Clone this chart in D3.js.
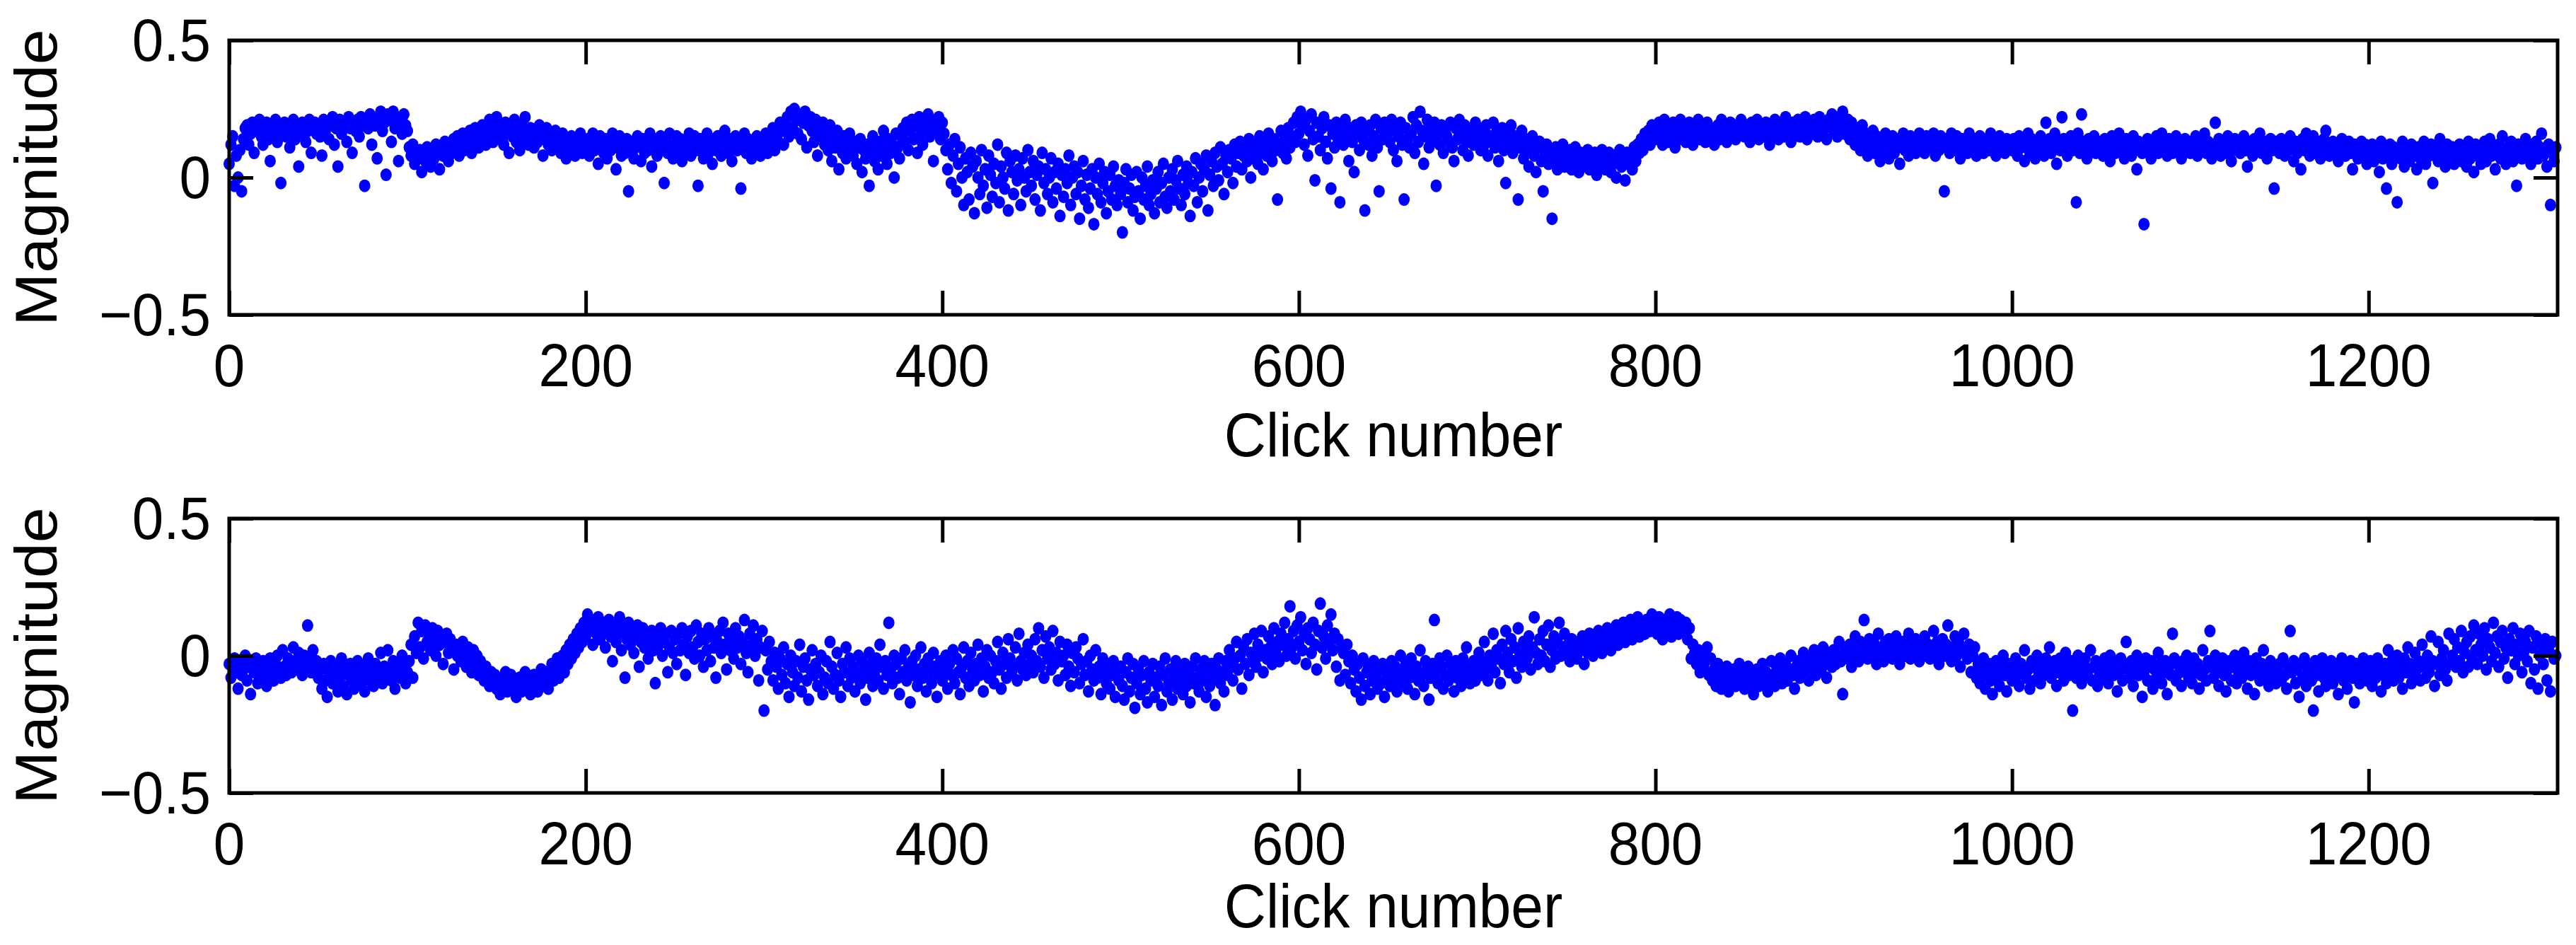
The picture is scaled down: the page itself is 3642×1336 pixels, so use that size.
<!DOCTYPE html>
<html><head><meta charset="utf-8">
<script src="https://cdn.jsdelivr.net/npm/d3@7"></script>
<style>body{margin:0;background:#fff}</style></head>
<body><svg id="c" width="3642" height="1336"></svg>
<script>
// Values in hundredths of magnitude units, one per click (index 0..)
const topMagnitudeCenti = [
5,12,15,-3,8,0,10,-5,14,18,19,12,16,20,9,17,19,21,15,12,18,20,14,6,19,16,21,13,17,-2,18,20,15,19,11,17,21,14,18,4,16,20,19,13,17,21,9,18,20,16,
19,15,8,21,17,20,14,19,22,12,18,4,21,16,19,20,13,22,18,9,20,17,21,15,22,19,-3,20,18,23,12,21,19,7,22,24,17,20,1,23,21,13,24,18,22,6,20,16,23,19,
17,11,8,12,5,9,7,10,2,9,6,11,8,4,10,7,12,9,3,11,8,13,10,6,12,9,14,11,15,8,13,16,10,14,12,17,9,15,18,13,11,16,19,14,12,18,21,15,13,20,
22,17,14,19,12,20,16,9,18,15,21,13,17,10,19,14,22,16,12,18,15,11,17,13,19,16,8,14,18,12,15,10,13,17,11,14,9,16,12,7,13,10,15,11,8,14,12,16,9,13,
11,14,8,12,16,10,13,5,15,11,9,14,7,12,10,16,13,3,11,15,8,12,9,14,-5,10,13,7,11,15,12,6,14,9,13,10,16,4,11,14,8,12,15,10,-2,13,9,16,11,7,
12,15,10,14,6,11,13,9,16,8,12,15,10,-3,14,11,7,13,16,9,12,5,14,10,15,11,8,13,17,12,9,14,6,11,15,10,13,-4,12,16,9,14,11,7,13,10,15,12,8,14,
11,16,9,14,12,18,10,15,13,20,17,12,19,22,15,24,18,25,21,16,23,14,20,24,11,19,22,17,13,21,8,18,15,20,12,16,10,19,6,14,11,17,3,13,9,15,7,12,16,10,
8,13,5,11,14,2,10,7,12,-3,9,15,6,11,3,13,8,17,10,5,14,9,12,0,16,11,7,15,18,13,20,10,17,21,14,19,9,22,16,12,20,18,23,15,21,6,19,17,22,14,
20,16,10,3,12,-2,8,14,-5,5,11,0,-10,7,2,-8,9,4,-13,6,0,-6,10,-3,3,-11,8,1,-7,5,-2,12,-9,4,0,-4,9,-12,6,2,-6,8,-1,3,-10,7,0,-5,10,2,
-3,6,-8,1,4,-12,9,-2,3,-6,0,7,-9,2,-4,5,-14,1,-7,3,-2,8,-10,0,4,-6,2,-15,-3,6,-8,1,-11,-4,3,-17,0,-6,5,-9,-2,2,-13,-5,1,-8,4,-3,-10,-1,
-6,-20,-2,3,-9,-4,1,-12,-7,2,-5,-15,0,-8,-3,4,-10,-6,-1,-13,-4,2,-9,-2,5,-7,-11,0,-5,3,-8,-1,6,-4,-10,1,-6,4,-2,-14,2,-3,7,-9,0,5,-5,3,8,-12,
1,6,-3,9,4,-1,11,5,-6,8,2,10,7,-2,12,4,9,13,3,8,11,6,14,0,10,7,12,5,15,9,3,13,8,16,11,6,14,10,-8,12,17,9,14,7,18,11,15,20,13,22,
16,24,19,12,21,8,17,23,14,-1,20,15,10,18,22,13,7,19,-4,16,11,20,14,-9,17,12,21,15,6,18,13,2,19,16,10,20,14,-12,17,12,19,8,15,21,11,-5,18,14,20,16,
19,13,21,10,17,6,15,20,12,-8,18,14,11,16,22,9,19,13,24,17,5,15,21,11,18,14,20,-3,16,12,19,9,17,15,13,20,11,6,18,14,21,16,10,19,13,8,17,15,12,20,
14,18,10,16,12,19,8,15,13,20,11,17,6,14,18,10,-2,16,12,19,9,15,13,-8,11,17,7,14,10,4,12,15,8,2,11,13,6,-5,9,12,5,10,-15,7,11,3,9,6,12,4,
8,5,10,3,7,11,6,2,9,4,8,6,10,3,7,5,9,1,8,4,10,6,3,7,9,2,5,8,0,6,10,4,7,-1,9,5,8,3,11,6,12,9,14,10,16,13,17,12,19,15,
18,14,20,16,12,21,17,13,19,15,20,11,18,14,21,16,19,13,17,20,15,12,18,16,21,14,17,19,13,20,16,18,15,12,17,19,14,21,16,18,13,17,20,15,19,14,18,16,21,17,
15,19,17,13,20,16,18,21,14,19,17,15,20,18,12,19,16,21,17,14,20,18,15,22,17,19,13,20,16,18,21,15,19,17,22,14,20,18,16,21,19,15,22,17,20,18,14,21,19,23,
17,20,15,22,18,24,16,19,21,14,20,17,12,18,15,10,19,13,16,8,14,11,17,9,15,12,6,14,10,16,13,7,12,15,9,11,14,5,12,16,10,13,8,15,11,14,9,12,16,10,
13,9,15,11,14,12,16,8,13,10,15,12,-5,14,11,9,16,13,10,15,12,7,14,11,13,9,16,12,10,14,8,13,15,11,9,12,14,10,16,13,11,8,12,15,10,13,9,14,11,12,
10,14,12,8,15,11,13,6,12,16,9,14,11,7,13,10,15,12,8,20,11,14,9,13,16,5,12,10,22,14,11,8,13,15,10,12,-9,16,9,23,13,11,7,14,12,10,15,9,13,11,
12,8,14,10,13,6,15,11,9,12,16,10,13,7,14,11,12,8,15,10,3,13,11,9,-17,12,14,10,7,13,11,15,9,12,16,10,13,8,14,11,9,12,15,10,13,7,11,14,10,12,
9,13,11,15,8,12,10,14,16,9,13,11,7,12,20,10,14,8,13,11,9,15,12,6,10,14,11,13,9,12,15,10,4,13,11,8,14,12,10,16,9,13,11,7,12,14,10,-4,13,11,
9,14,12,8,13,10,15,11,6,13,9,12,3,14,10,16,11,8,12,15,9,13,10,7,11,14,17,12,8,10,13,9,11,6,12,14,10,8,11,13,9,3,12,10,7,11,13,9,12,5,
10,8,12,6,11,9,2,13,7,10,-4,9,12,5,11,8,-9,10,7,13,4,9,11,6,12,8,10,3,11,7,9,13,5,10,8,12,-2,9,11,6,14,8,10,4,12,7,9,11,5,10,
8,12,6,11,9,4,13,7,10,2,12,8,11,5,9,13,6,10,14,8,11,3,9,12,7,15,10,5,11,8,13,6,9,-3,12,10,7,11,14,8,10,5,12,9,13,7,11,16,8,10,
4,12,-10,9,6,11];
const bottomMagnitudeCenti = [
-3,-8,-4,-1,-6,-12,-2,-7,-5,0,-9,-4,-14,-3,-6,-1,-10,-5,-8,-2,-7,-11,-4,-1,-6,-9,-3,0,-5,-8,2,-4,-7,-1,-3,-6,3,-2,-5,1,-4,-7,0,-3,11,-1,-6,2,-4,-2,
-8,-5,-12,-3,-9,-15,-6,-2,-10,-7,-4,-13,-8,-1,-11,-5,-14,-7,-3,-9,-12,-6,-2,-8,-10,-4,-13,-7,-1,-9,-5,-11,-3,-8,-6,1,-10,-4,-7,2,-5,-9,-2,-12,-6,-3,-8,0,-5,-10,
-6,-2,4,-8,7,1,12,3,9,-1,11,5,8,2,10,6,0,9,4,7,-3,5,8,1,6,3,-5,4,0,2,-2,5,1,-4,3,-1,-6,2,-3,0,-7,-2,-5,-9,-4,-8,-11,-6,-10,-7,
-12,-9,-14,-8,-11,-6,-13,-10,-7,-12,-9,-15,-11,-8,-13,-10,-6,-12,-9,-14,-11,-7,-10,-13,-8,-5,-11,-9,-6,-12,-7,-3,-9,-5,-1,-8,-4,0,-6,2,-3,4,-1,6,1,8,3,10,5,12,
7,15,9,13,4,11,8,14,6,10,12,3,9,13,7,-2,11,5,8,14,2,10,-8,6,12,4,9,1,7,11,-4,5,10,3,8,-1,6,9,2,-10,7,4,10,0,5,8,-6,3,9,1,
6,-3,8,2,10,4,-7,7,1,9,3,-1,11,5,0,8,-4,6,2,10,-2,7,3,-8,5,9,1,12,4,-5,8,2,6,-1,10,3,7,-3,5,13,1,-6,8,4,11,0,6,-9,3,9,
-20,2,-5,5,-2,-9,1,-4,-12,-1,-7,3,-10,-3,-15,0,-6,-11,-2,-8,4,-13,-4,-1,-9,-16,-5,2,-7,-3,-11,-6,0,-14,-8,-2,-10,5,-4,-12,-7,1,-9,-15,-3,-6,3,-11,-1,-8,
-4,-13,-7,0,-10,-2,-5,-16,-8,1,-3,-11,-6,-1,-9,4,-4,-12,-2,-7,12,-5,-10,0,-3,-8,-14,-1,-6,2,-9,-4,-17,-2,-7,0,-11,-5,3,-8,-3,-13,-1,-6,-10,1,-4,-15,-7,-2,
-9,-5,0,-12,-3,-7,2,-10,-1,-6,-14,-4,3,-8,-2,-11,1,-5,-9,-3,4,-7,-1,-13,-4,2,-8,0,-6,-10,-2,5,-5,-12,1,-3,-8,6,-1,-6,-4,3,-9,8,-2,-5,1,-7,4,-3,
0,-6,6,-2,10,-4,2,-8,7,-1,3,-5,9,-3,1,-9,5,-2,0,-7,4,-4,-11,1,-6,3,-1,-10,-3,6,-7,-2,-13,0,-5,-9,2,-8,-4,-14,-1,-6,-10,-3,-12,-7,-2,-15,-5,-9,
-4,-11,-16,-6,-1,-13,-8,-3,-19,-10,-5,-14,-7,-2,-12,-17,-6,-9,-3,-15,-8,-11,-4,-18,-7,-1,-13,-10,-5,-16,-8,-2,-12,-6,-9,-14,-3,-11,-7,-17,-4,-10,-1,-8,-13,-5,-9,-2,-15,-6,
-11,-3,-8,-18,-5,-1,-10,-6,-13,-2,-7,2,-4,-9,-1,5,-5,0,-12,3,-3,6,-7,1,-2,8,-4,4,0,9,-6,2,-1,7,3,-3,10,1,5,-2,8,4,12,0,6,18,3,9,-1,11,
5,14,2,8,-3,10,6,1,12,4,-5,9,19,3,7,-1,11,5,15,2,8,-4,6,-9,3,1,-7,4,-2,-10,0,-5,-13,-3,-8,-16,-1,-11,-6,-4,-14,-9,-2,-7,-12,-5,-10,-3,-15,-8,
-6,-11,-2,-9,-4,-13,-7,0,-10,-5,-3,-12,-8,-1,-6,-14,-4,-9,2,-7,-11,-2,-5,-16,-8,-3,13,-6,-10,-1,-4,-12,-7,0,-9,-3,-6,-13,-2,-8,-5,-11,-1,-7,3,-4,-10,-6,-2,-9,
-4,1,-7,-2,5,-5,-9,0,-3,8,-6,2,-1,-10,4,-3,9,1,-6,6,-2,3,-8,10,0,-4,5,2,-1,7,-5,3,14,1,-3,6,0,9,-2,4,11,-4,2,7,-1,5,12,0,3,8,
1,4,-2,6,0,3,-1,5,2,7,-3,4,1,8,3,0,6,2,9,4,1,7,3,10,5,2,8,6,11,4,9,7,12,5,10,8,13,6,11,9,14,7,12,10,8,13,11,9,15,10,
12,8,14,10,6,13,9,11,15,7,12,10,14,8,13,11,9,12,6,10,-1,4,1,-3,2,-6,0,-4,-2,3,-7,-1,-9,-5,-11,-3,-8,-12,-6,-10,-4,-13,-7,-9,-5,-11,-8,-3,-10,-6,
-12,-8,-4,-10,-7,-14,-9,-5,-11,-8,-3,-10,-6,-13,-9,-2,-7,-11,-4,-8,-1,-10,-6,-3,-9,-5,0,-7,-12,-4,-2,-8,-5,1,-6,-3,-9,-1,-4,2,-7,-2,0,-5,3,-3,-8,1,-1,-4,
2,-3,0,5,-2,-14,3,1,-1,4,-4,2,7,0,-2,5,1,13,3,-1,6,2,0,4,-3,8,1,3,-2,5,0,6,2,-1,4,7,1,-3,3,5,0,2,8,-1,4,1,6,3,-2,5,
2,7,0,4,-1,3,9,1,5,-3,2,6,0,4,11,1,-2,3,7,0,5,-4,2,8,1,-1,4,-6,0,3,-8,-3,-10,-5,-1,-12,-7,-3,-9,-14,-5,-2,-8,-11,-4,0,-7,-13,-3,-6,
-9,-4,-1,-7,-11,-3,-6,2,-8,-5,-12,-2,-4,-9,0,-6,-10,-3,-7,-1,-5,3,-8,-4,-2,-11,-6,-1,-3,-9,1,-5,-7,-2,-20,-4,-8,0,-6,-10,-3,-1,-7,-5,2,-9,-4,-2,-11,-6,
-3,-8,-1,-5,-10,0,-4,-7,-2,-13,-6,-1,-9,-3,5,-5,-8,-2,-11,-4,0,-7,-3,-15,-6,-1,-9,-4,-2,-12,-5,-8,1,-3,-10,-6,-2,-14,-4,-7,8,-1,-9,-3,-6,-11,-2,-5,0,-8,
-4,-10,-1,-6,-3,-12,-7,2,-5,-9,-2,9,-4,-8,0,-6,-11,-3,-1,-7,-13,-5,-2,-9,-4,0,-10,-6,-3,-8,1,-5,-12,-2,-7,-4,-14,-1,-6,-9,-3,2,-8,-5,-11,-2,-7,-4,-10,-6,
-3,-9,-1,-7,-12,-4,9,-6,-2,-10,-5,-15,-3,-8,-1,-11,-6,-4,-9,-20,-2,-7,-13,-5,-1,-8,-11,-4,-6,-2,-10,-3,-7,-14,-5,-1,-9,-4,-12,-6,-2,-8,-17,-3,-5,-10,-7,-1,-4,-9,
-6,-2,-11,-5,-8,-1,-4,-13,-7,-3,-10,2,-6,-2,-9,-5,0,-8,-4,-12,-1,-6,3,-3,-10,-7,1,-5,-2,-9,4,-4,-8,0,-6,7,-2,-11,-3,5,-7,-1,2,-5,-9,8,-3,0,6,-4,
3,-2,9,-6,1,5,-4,7,-1,11,2,-3,8,4,0,10,-5,6,3,-2,12,1,7,-4,5,9,-1,3,-8,6,2,10,-3,4,0,8,-6,1,5,-2,9,-10,3,-5,7,-12,0,4,-3,6,
-9,2,-13,5,-1,0];
const xTickValues = [0,200,400,600,800,1000,1200];
const yTickValues = [-0.5,0,0.5];
const yTickLabels = ["\u22120.5","0","0.5"];
const xLabel = "Click number", yLabel = "Magnitude";

const svg = d3.select("#c");
const L = 324, R = 3616;
const panels = [{top:57,bottom:445,labelGap:200,data:topMagnitudeCenti},{top:733,bottom:1121,labelGap:190,data:bottomMagnitudeCenti}];
const x = d3.scaleLinear().domain([0,1306]).range([L,R]);
const font = "Liberation Sans, Arial, sans-serif";
const SY = 1.07;
function stretched(sel, tx, ty){
  return sel.attr("transform",`translate(${tx},${ty}) scale(1,${SY})`);
}
panels.forEach(p=>{
  const y = d3.scaleLinear().domain([-0.5,0.5]).range([p.bottom,p.top]);
  const g = svg.append("g");
  g.append("g").selectAll("ellipse").data(p.data).join("ellipse")
    .attr("cx",(d,i)=>x(i)).attr("cy",d=>y(d/100)).attr("rx",8).attr("ry",9).attr("fill","#0000ff");
  const tl = 34, sw = 5;
  const ax = g.append("g").attr("transform",`translate(0,${p.bottom})`)
    .call(d3.axisTop(x).tickValues(xTickValues).tickSize(tl).tickFormat(""));
  const ax2 = g.append("g").attr("transform",`translate(0,${p.top})`)
    .call(d3.axisBottom(x).tickValues(xTickValues).tickSize(tl).tickFormat(""));
  const ay = g.append("g").attr("transform",`translate(${L},0)`)
    .call(d3.axisRight(y).tickValues(yTickValues).tickSize(tl).tickFormat(""));
  const ay2 = g.append("g").attr("transform",`translate(${R},0)`)
    .call(d3.axisLeft(y).tickValues(yTickValues).tickSize(tl).tickFormat(""));
  [ax,ax2,ay,ay2].forEach(a=>{a.select(".domain").remove();a.selectAll("line").attr("stroke","#000").attr("stroke-width",sw);});
  g.append("rect").attr("x",L).attr("y",p.top).attr("width",R-L).attr("height",p.bottom-p.top)
    .attr("fill","none").attr("stroke","#000").attr("stroke-width",sw);
  g.selectAll(".xl").data(xTickValues).join("text").each(function(d){
    stretched(d3.select(this), x(d), p.bottom+101);
  }).attr("text-anchor","middle").attr("font-family",font).attr("font-size",80).text(d=>d);
  g.selectAll(".yl").data(yTickValues).join("text").each(function(d){
    stretched(d3.select(this), L-26, y(d)+29);
  }).attr("text-anchor","end").attr("font-family",font).attr("font-size",80).text((d,i)=>yTickLabels[i]);
  stretched(g.append("text"), (L+R)/2, p.bottom+p.labelGap).attr("text-anchor","middle")
    .attr("font-family",font).attr("font-size",82).text(xLabel);
  g.append("text").attr("transform",`translate(80,${(p.top+p.bottom)/2}) rotate(-90) scale(1.07,1)`).attr("text-anchor","middle")
    .attr("font-family",font).attr("font-size",84).text(yLabel);
});
</script></body></html>
